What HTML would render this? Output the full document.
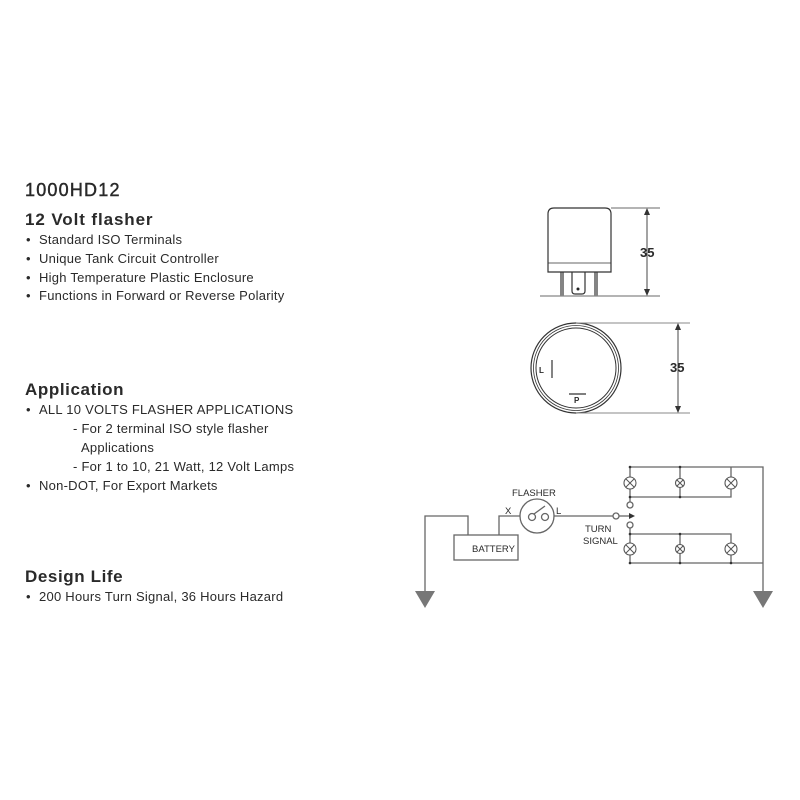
<!DOCTYPE html>
<html><head><meta charset="utf-8"><style>
html,body{margin:0;padding:0;background:#fff;}
svg{display:block;}
text{font-family:"Liberation Sans",sans-serif;fill:#2a2a2a;}
</style></head><body>
<svg width="800" height="800" viewBox="0 0 800 800" xmlns="http://www.w3.org/2000/svg">
<g font-size="13" letter-spacing="0.25">
<text x="25" y="196" font-size="18" fill="#222" letter-spacing="1.2" stroke="#222" stroke-width="0.4">1000HD12</text>
<text x="25" y="225" font-size="17" font-weight="bold" fill="#222" letter-spacing="0.9">12 Volt flasher</text>
<text x="26" y="244">•</text><text x="39" y="244">Standard ISO Terminals</text>
<text x="26" y="263">•</text><text x="39" y="263">Unique Tank Circuit Controller</text>
<text x="26" y="282">•</text><text x="39" y="282">High Temperature Plastic Enclosure</text>
<text x="26" y="300">•</text><text x="39" y="300">Functions in Forward or Reverse Polarity</text>

<text x="25" y="395" font-size="17" font-weight="bold" fill="#222" letter-spacing="0.6">Application</text>
<text x="26" y="414">•</text><text x="39" y="414">ALL 10 VOLTS FLASHER APPLICATIONS</text>
<text x="73" y="433">- For 2 terminal ISO style flasher</text>
<text x="81" y="452">Applications</text>
<text x="73" y="471">- For 1 to 10, 21 Watt, 12 Volt Lamps</text>
<text x="26" y="490">•</text><text x="39" y="490">Non-DOT, For Export Markets</text>

<text x="25" y="582" font-size="17" font-weight="bold" fill="#222" letter-spacing="0.6">Design Life</text>
<text x="26" y="601">•</text><text x="39" y="601">200 Hours Turn Signal, 36 Hours Hazard</text>
</g>

<!-- side view -->
<g stroke="#333" fill="none" stroke-width="1.2">
<path d="M548 272 V214 Q548 208 554 208 H605 Q611 208 611 214 V272 Z"/>
<path d="M548 263 H611" stroke-width="0.8"/>
<path d="M561 272 V296 M563 272 V296 M595 272 V296 M597 272 V296"/>
<path d="M572 272 V291 Q572 294 575 294 H582 Q585 294 585 291 V272"/>
<path d="M540 296 H660 M611 208 H660" stroke="#888"/>
<path d="M647 209 V295" stroke-width="0.9"/>
</g>
<circle cx="578" cy="289" r="1.5" fill="#222"/>
<path d="M647 208 l-3 7 h6z M647 296 l-3 -7 h6z" fill="#333"/>
<text x="640" y="257" font-size="13" font-weight="bold">35</text>

<!-- top view -->
<g stroke="#333" fill="none">
<circle cx="576" cy="368" r="45" stroke-width="1.2"/>
<circle cx="576" cy="368" r="42.5" stroke-width="0.8"/>
<circle cx="576" cy="368" r="40" stroke-width="1"/>
<path d="M576 323 H690 M576 413 H690" stroke="#888"/>
<path d="M678 324 V412" stroke-width="0.9"/>
<path d="M552 360 V378 M569 394 H586" stroke-width="1.2"/>
</g>
<path d="M678 323 l-3 7 h6z M678 413 l-3 -7 h6z" fill="#333"/>
<text x="670" y="372" font-size="13" font-weight="bold">35</text>
<text x="539" y="373" font-size="8" font-weight="bold">L</text>
<text x="574" y="403" font-size="8" font-weight="bold">P</text>

<!-- wiring -->
<g stroke="#666" fill="none" stroke-width="1.3">
<path d="M425 592 V516 H468 V535"/>
<rect x="454" y="535" width="64" height="25"/>
<path d="M499 535 V516 H520"/>
<circle cx="537" cy="516" r="17"/>
<circle cx="532" cy="517" r="3.5"/>
<circle cx="545" cy="517" r="3.5"/>
<path d="M534 514 L545 506" />
<path d="M554 516 H613"/>
<circle cx="616" cy="516" r="3"/>
<path d="M619 516 H630"/>
<circle cx="630" cy="505" r="3"/>
<circle cx="630" cy="525" r="3"/>
<path d="M630 502 V467 H763 V592"/>
<path d="M630 497 H731 V467 M680 467 V497"/>
<path d="M630 528 V563 H763"/>
<path d="M630 534 H731 V563 M680 534 V563"/>
</g>
<path d="M629 513 l6 3 l-6 3z" fill="#333"/>
<g stroke="#555" fill="#fff" stroke-width="1.1">
<circle cx="630" cy="483" r="6"/><circle cx="680" cy="483" r="4.5"/><circle cx="731" cy="483" r="6"/>
<circle cx="630" cy="549" r="6"/><circle cx="680" cy="549" r="4.5"/><circle cx="731" cy="549" r="6"/>
</g>
<g stroke="#555" stroke-width="1">
<path d="M626 479 l8 8 M634 479 l-8 8 M677 480 l6 6 M683 480 l-6 6 M727 479 l8 8 M735 479 l-8 8"/>
<path d="M626 545 l8 8 M634 545 l-8 8 M677 546 l6 6 M683 546 l-6 6 M727 545 l8 8 M735 545 l-8 8"/>
</g>
<g fill="#333">
<circle cx="630" cy="467" r="1.3"/><circle cx="680" cy="467" r="1.3"/><circle cx="680" cy="497" r="1.3"/><circle cx="630" cy="497" r="1.3"/>
<circle cx="630" cy="534" r="1.3"/><circle cx="680" cy="534" r="1.3"/><circle cx="680" cy="563" r="1.3"/><circle cx="630" cy="563" r="1.3"/><circle cx="731" cy="563" r="1.3"/>
</g>
<path d="M415 591 H435 L425 608 Z M753 591 H773 L763 608 Z" fill="#777"/>
<text x="472" y="552" font-size="9.5">BATTERY</text>
<text x="512" y="496" font-size="9.5">FLASHER</text>
<text x="505" y="514" font-size="9.5">X</text>
<text x="556" y="514" font-size="9.5">L</text>
<text x="585" y="532" font-size="9.5">TURN</text>
<text x="583" y="544" font-size="9.5">SIGNAL</text>
</svg>
</body></html>
